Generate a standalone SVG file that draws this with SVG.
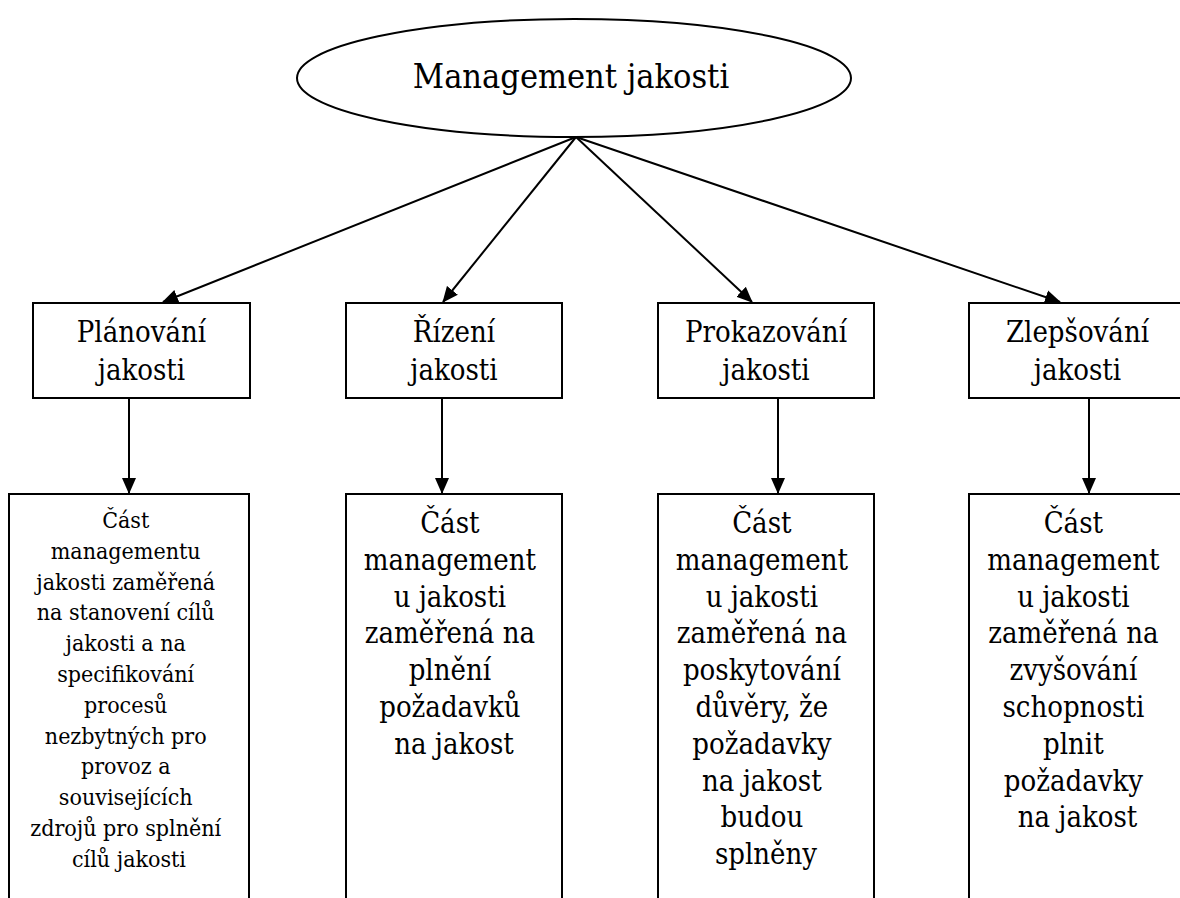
<svg xmlns="http://www.w3.org/2000/svg" width="1180" height="898" viewBox="0 0 1180 898">
  <style>
    .shape { fill: #ffffff; stroke: #000000; stroke-width: 2; }
    .link { fill: none; stroke: #000000; stroke-width: 2; }
    text { font-family: "DejaVu Serif Condensed", "DejaVu Serif", serif; font-stretch: condensed; fill: #000000; text-anchor: middle; }
    .title { font-size: 29px; }
    .root { font-size: 34px; }
    .desc { font-size: 29px; }
    .desc-small { font-size: 23px; }
  </style>
  <defs>
    <marker id="arrow" markerUnits="userSpaceOnUse" markerWidth="16" markerHeight="16" viewBox="0 0 16 16" refX="15" refY="8" orient="auto">
      <path d="M0,1 L16,8 L0,15 Z" fill="#000000"/>
    </marker>
  </defs>
  <rect x="0" y="0" width="1180" height="898" fill="#ffffff"/>

  <!-- connectors -->
  <g id="connectors">
    <line class="link" x1="576" y1="137" x2="163" y2="302" marker-end="url(#arrow)"/>
    <line class="link" x1="576" y1="137" x2="443" y2="302" marker-end="url(#arrow)"/>
    <line class="link" x1="576" y1="137" x2="752" y2="302" marker-end="url(#arrow)"/>
    <line class="link" x1="576" y1="137" x2="1060" y2="302" marker-end="url(#arrow)"/>
    <line class="link" x1="129" y1="398" x2="129" y2="493" marker-end="url(#arrow)"/>
    <line class="link" x1="442" y1="398" x2="442" y2="493" marker-end="url(#arrow)"/>
    <line class="link" x1="778" y1="398" x2="778" y2="493" marker-end="url(#arrow)"/>
    <line class="link" x1="1089" y1="398" x2="1089" y2="493" marker-end="url(#arrow)"/>
  </g>

  <!-- root -->
  <g id="management">
    <ellipse class="shape" cx="574" cy="78" rx="277" ry="59"/>
    <text class="root" x="571" y="88">Management jakosti</text>
  </g>

  <!-- second level -->
  <g id="planovani">
    <rect class="shape" x="33" y="303" width="217" height="95"/>
    <text class="title" x="141.5" y="342">Plánování</text>
    <text class="title" x="141.5" y="380">jakosti</text>
  </g>
  <g id="rizeni">
    <rect class="shape" x="346" y="303" width="216" height="95"/>
    <text class="title" x="454" y="342">Řízení</text>
    <text class="title" x="454" y="380">jakosti</text>
  </g>
  <g id="prokazovani">
    <rect class="shape" x="658" y="303" width="216" height="95"/>
    <text class="title" x="766" y="342">Prokazování</text>
    <text class="title" x="766" y="380">jakosti</text>
  </g>
  <g id="zlepsovani">
    <rect class="shape" x="969" y="303" width="217" height="95"/>
    <text class="title" x="1077.5" y="342">Zlepšování</text>
    <text class="title" x="1077.5" y="380">jakosti</text>
  </g>

  <!-- definitions -->
  <g id="def-planovani">
    <rect class="shape" x="9" y="494" width="240" height="430"/>
    <text class="desc-small" x="129" y="528">
      <tspan x="129">Část</tspan>
      <tspan x="129" dy="30.8">managementu</tspan>
      <tspan x="129" dy="30.8">jakosti zaměřená</tspan>
      <tspan x="129" dy="30.8">na stanovení cílů</tspan>
      <tspan x="129" dy="30.8">jakosti a na</tspan>
      <tspan x="129" dy="30.8">specifikování</tspan>
      <tspan x="129" dy="30.8">procesů</tspan>
      <tspan x="129" dy="30.8">nezbytných pro</tspan>
      <tspan x="129" dy="30.8">provoz a</tspan>
      <tspan x="129" dy="30.8">souvisejících</tspan>
      <tspan x="129" dy="30.8">zdrojů pro splnění</tspan>
      <tspan x="129" dy="30.8">cílů jakosti</tspan>
    </text>
  </g>
  <g id="def-rizeni">
    <rect class="shape" x="346" y="494" width="216" height="430"/>
    <text class="desc" x="454" y="533">
      <tspan x="454">Část</tspan>
      <tspan x="454" dy="36.8">management</tspan>
      <tspan x="454" dy="36.8">u jakosti</tspan>
      <tspan x="454" dy="36.8">zaměřená na</tspan>
      <tspan x="454" dy="36.8">plnění</tspan>
      <tspan x="454" dy="36.8">požadavků</tspan>
      <tspan x="454" dy="36.8">na jakost</tspan>
    </text>
  </g>
  <g id="def-prokazovani">
    <rect class="shape" x="658" y="494" width="216" height="430"/>
    <text class="desc" x="766" y="533">
      <tspan x="766">Část</tspan>
      <tspan x="766" dy="36.8">management</tspan>
      <tspan x="766" dy="36.8">u jakosti</tspan>
      <tspan x="766" dy="36.8">zaměřená na</tspan>
      <tspan x="766" dy="36.8">poskytování</tspan>
      <tspan x="766" dy="36.8">důvěry, že</tspan>
      <tspan x="766" dy="36.8">požadavky</tspan>
      <tspan x="766" dy="36.8">na jakost</tspan>
      <tspan x="766" dy="36.8">budou</tspan>
      <tspan x="766" dy="36.8">splněny</tspan>
    </text>
  </g>
  <g id="def-zlepsovani">
    <rect class="shape" x="969" y="494" width="217" height="430"/>
    <text class="desc" x="1077.5" y="533">
      <tspan x="1077.5">Část</tspan>
      <tspan x="1077.5" dy="36.8">management</tspan>
      <tspan x="1077.5" dy="36.8">u jakosti</tspan>
      <tspan x="1077.5" dy="36.8">zaměřená na</tspan>
      <tspan x="1077.5" dy="36.8">zvyšování</tspan>
      <tspan x="1077.5" dy="36.8">schopnosti</tspan>
      <tspan x="1077.5" dy="36.8">plnit</tspan>
      <tspan x="1077.5" dy="36.8">požadavky</tspan>
      <tspan x="1077.5" dy="36.8">na jakost</tspan>
    </text>
  </g>
</svg>
